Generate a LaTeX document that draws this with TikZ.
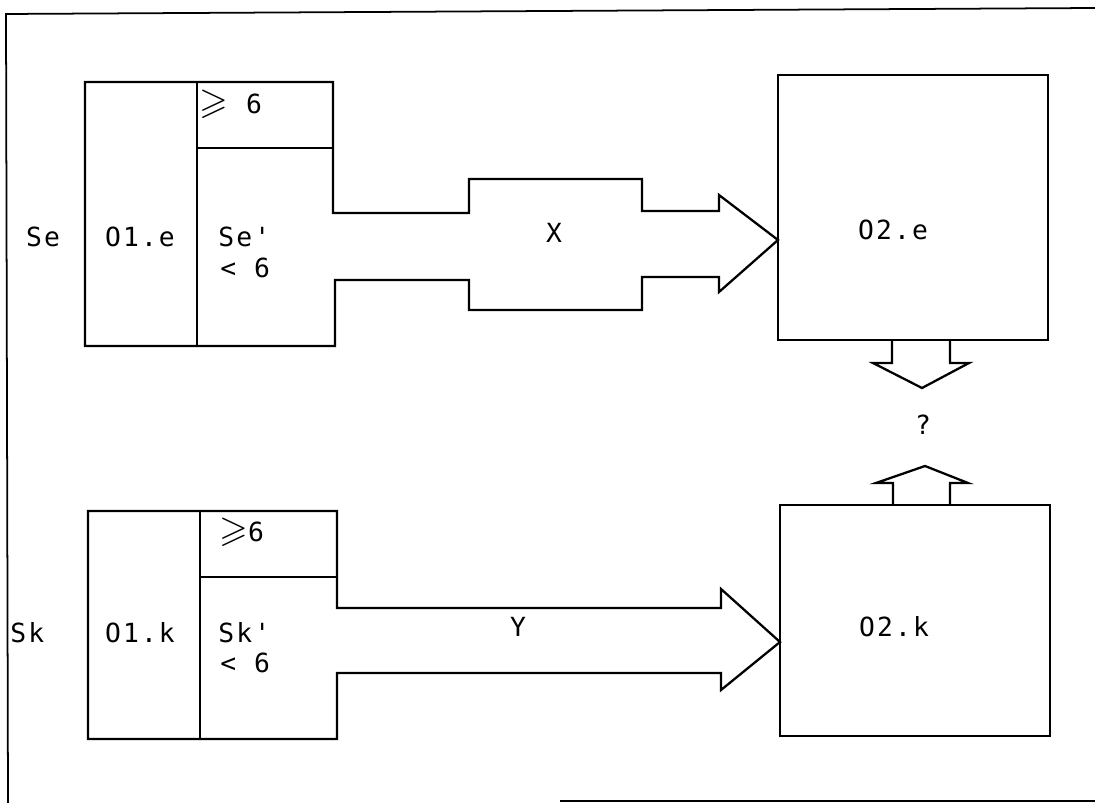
\documentclass[tikz,border=0pt]{standalone}
\usepackage{fontspec}
\usepackage{amssymb}
\usetikzlibrary{positioning}
\newfontfamily\dotfont[LetterSpace=8]{DejaVu Sans Mono}
\newcommand{\bigge}{{\fontsize{21}{21}\selectfont$\geqslant$}}

\tikzset{
  lbl/.style={font=\dotfont\fontsize{15}{17}\selectfont, inner sep=0pt},
  outline/.style={line width=1.3pt, line join=miter},
  thinline/.style={line width=0.7pt}
}

\begin{document}
\begin{tikzpicture}[x=0.02cm, y=-0.02cm]
  \useasboundingbox (0,0) rectangle (1095,803);
  % frame
  \draw[line width=1pt] (1095,8) -- (6,14) -- (8,803);
  \draw[line width=1pt] (560,801) -- (1095,801);

  % upper group: O1.e with arrow X
  \draw[outline] (85,82) -- (333,82) -- (333,213) -- (469,213) -- (469,179) -- (642,179) -- (642,211)
    -- (719,211) -- (719,195) -- (778,240) -- (719,292) -- (719,277) -- (642,277) -- (642,310)
    -- (469,310) -- (469,280) -- (335,280) -- (335,346) -- (85,346) -- cycle;
  \draw[thinline] (197,82) -- (197,346) (197,148) -- (333,148);
  \node[lbl] (se) at (43,237) {Se};
  \node[lbl] (o1e) at (140,237) {O1.e};
  \node[lbl, anchor=west] (sep) at (218,237) {Se'};
  \node[lbl, anchor=west] (selt) at (220,268) {< 6};
  \node[lbl, anchor=west] (sege) at (199,104) {\bigge\ 6};
  \node[lbl] (x) at (554,233) {X};

  \draw[outline] (778,75) rectangle (1048,340);
  \node[lbl] (o2e) at (893,230) {O2.e};
  \draw[outline] (892,340) -- (892,363) -- (873,363) -- (922,388) -- (969,363) -- (950,363) -- (950,340);
  \node[lbl] (q) at (923,425) {?};
  \draw[outline] (893,505) -- (893,483) -- (876,483) -- (925,466) -- (968,483) -- (950,483) -- (950,505);

  % lower group: O1.k with arrow Y
  \draw[outline] (88,511) -- (337,511) -- (337,608) -- (721,608) -- (721,589) -- (780,642)
    -- (721,690) -- (721,673) -- (337,673) -- (337,739) -- (88,739) -- cycle;
  \draw[thinline] (200,511) -- (200,739) (200,577) -- (337,577);
  \node[lbl, anchor=west] (sk) at (10,633) {Sk};
  \node[lbl] (o1k) at (140,633) {O1.k};
  \node[lbl, anchor=west] (skp) at (218,633) {Sk'};
  \node[lbl, anchor=west] (sklt) at (220,663) {< 6};
  \node[lbl, anchor=west] (skge) at (219,532) {\bigge6};
  \node[lbl] (y) at (518,627) {Y};

  \draw[outline] (780,505) rectangle (1050,736);
  \node[lbl] (o2k) at (894,627) {O2.k};
\end{tikzpicture}
\end{document}
